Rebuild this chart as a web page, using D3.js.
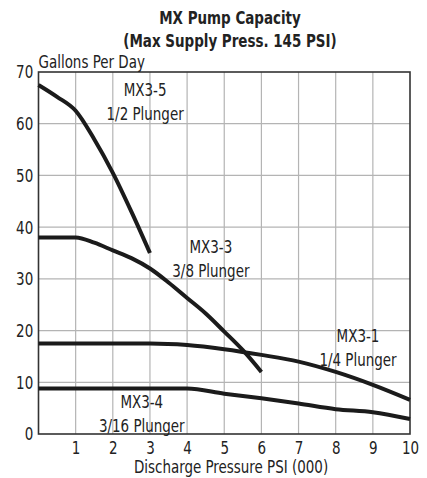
<!DOCTYPE html>
<html>
<head>
<meta charset="utf-8">
<script src="https://cdn.jsdelivr.net/npm/d3@7"></script>
<style>
  body { margin: 0; background: #fff; }
  svg text { font-family: "DejaVu Sans", sans-serif; font-stretch: condensed; fill: #222; }
</style>
</head>
<body>
<svg id="chart"></svg>
<script>
// chart data
var xTicks = [1, 2, 3, 4, 5, 6, 7, 8, 9, 10],
  yTicks = [0, 10, 20, 30, 40, 50, 60, 70];

var mx35 = [[0, 67.5], [0.5, 65.2], [1, 62.5], [1.5, 57], [2, 50.5], [2.5, 43], [3, 35]];
var mx33 = [[0, 38], [1, 38], [1.5, 37], [2, 35.5], [2.5, 34], [3, 32], [3.5, 29.3],
  [4, 26.3], [4.5, 23.3], [5, 19.8], [5.5, 16.2], [6, 12]];
var mx31 = [[0, 17.5], [1, 17.5], [2, 17.5], [3, 17.5], [4, 17.2], [5, 16.4], [6, 15.3],
  [7, 14], [8, 12], [9, 9.5], [10, 6.6]];
var mx34 = [[0, 8.8], [1, 8.8], [2, 8.8], [3, 8.8], [4, 8.8], [5, 7.8], [6, 6.9],
  [7, 5.9], [8, 4.8], [9, 4.2], [10, 2.9]];

var seriesNames = ["MX3-5", "MX3-3", "MX3-1", "MX3-4"],
  plungers = ["1/2 Plunger", "3/8 Plunger", "1/4 Plunger", "3/16 Plunger"],
  labelAt = [[2.87, 65.4], [4.64, 35], [8.6, 17.8], [2.78, 5.0]];

var width = 427,
  height = 478,
  plotL = 38.5, plotR = 410, plotT = 72, plotB = 434,
  squeeze = 0.88;

var svg = d3.select("#chart")
  .attr("width", width)
  .attr("height", height);

var x = d3.scaleLinear().domain([0, 10]).range([plotL, plotR]);
var y = d3.scaleLinear().domain([0, 70]).range([plotB, plotT]);

// narrow text like the condensed face of the original
function putText(px, py, txt, size, anchor, bold) {
  return svg.append("text")
    .attr("transform", "translate(" + px + "," + py + ") scale(" + squeeze + ",1)")
    .attr("text-anchor", anchor || "start")
    .style("font-size", size + "px")
    .style("font-weight", bold ? "bold" : null)
    .text(txt);
}

// grid
svg.append("g")
  .selectAll("line")
  .data(xTicks.slice(0, -1))
  .enter().append("line")
    .attr("x1", function(d) { return x(d); })
    .attr("x2", function(d) { return x(d); })
    .attr("y1", plotT).attr("y2", plotB)
    .attr("stroke", "#b4b4b4").attr("stroke-width", 1.2);

svg.append("g")
  .selectAll("line")
  .data(yTicks.slice(1, -1))
  .enter().append("line")
    .attr("x1", plotL).attr("x2", plotR)
    .attr("y1", function(d) { return y(d); })
    .attr("y2", function(d) { return y(d); })
    .attr("stroke", "#b4b4b4").attr("stroke-width", 1.2);

// frame
svg.append("rect")
  .attr("x", plotL).attr("y", plotT)
  .attr("width", plotR - plotL).attr("height", plotB - plotT)
  .attr("fill", "none").attr("stroke", "#333").attr("stroke-width", 1.6);

// axes labels
var yAxis = d3.axisLeft(y).tickValues(yTicks).tickSize(0).tickPadding(6);
svg.append("g")
  .attr("transform", "translate(" + plotL + ",0)")
  .call(yAxis)
  .call(function(g) { g.select(".domain").remove(); })
  .selectAll("text")
    .style("font-size", "17px")
    .attr("dy", "0.35em")
    .attr("transform", "scale(" + squeeze + ",1)");

var xAxis = d3.axisBottom(x).tickValues(xTicks).tickSize(0).tickPadding(8);
svg.append("g")
  .attr("transform", "translate(0," + plotB + ")")
  .call(xAxis)
  .call(function(g) { g.select(".domain").remove(); })
  .selectAll("text")
    .style("font-size", "17px")
    .attr("transform", "scale(" + squeeze + ",1)");

// curves
var line = d3.line()
  .x(function(d) { return x(d[0]); })
  .y(function(d) { return y(d[1]); })
  .curve(d3.curveMonotoneX);

svg.append("g")
  .selectAll("path")
  .data([mx35, mx33, mx31, mx34])
  .enter().append("path")
    .attr("d", line)
    .attr("fill", "none")
    .attr("stroke", "#1b1b1b")
    .attr("stroke-width", 4);

// series labels
seriesNames.forEach(function(name, i) {
  var t = putText(x(labelAt[i][0]), y(labelAt[i][1]), null, 17, "middle");
  t.append("tspan").attr("x", 0).text(name);
  t.append("tspan").attr("x", 0).attr("dy", 24).text(plungers[i]);
});

// titles
putText(230, 24, "MX Pump Capacity", 17, "middle", true);
putText(230, 47, "(Max Supply Press. 145 PSI)", 17, "middle", true);
putText(plotL, 68, "Gallons Per Day", 17);
putText(231, 473, "Discharge Pressure PSI (000)", 17, "middle");
</script>
</body>
</html>
